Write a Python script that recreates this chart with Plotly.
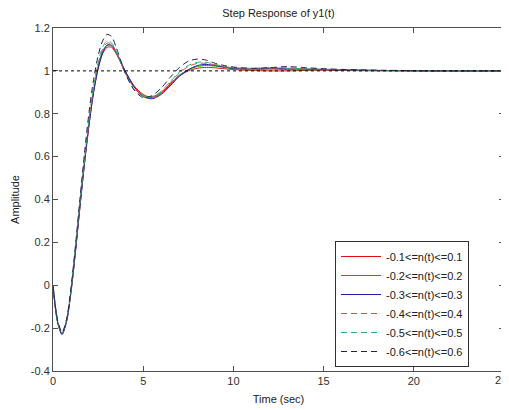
import plotly.graph_objects as go

t = [0, 0.25, 0.5, 0.75, 1, 1.25, 1.5, 1.75, 2, 2.25, 2.5, 2.75, 3, 3.25, 3.5, 3.75, 4, 4.5, 5, 5.5,
     6, 6.5, 7, 7.5, 8, 8.5, 9, 9.5, 10, 11, 12, 13, 14, 15, 16, 17, 18, 19, 20, 21, 22, 23, 24, 25]

y_n01 = [0, -0.17, -0.225, -0.17, -0.03, 0.16, 0.37, 0.57, 0.75, 0.90, 1.01, 1.08, 1.11, 1.11, 1.08, 1.04, 1.00, 0.93, 0.89, 0.875,
         0.895, 0.935, 0.975, 1.0, 1.012, 1.016, 1.014, 1.01, 1.006, 1.002, 1.0, 1.0, 1.002, 1.003, 1.002, 1.001, 1.0, 1.0, 1.0, 1.0, 1.0, 1.0, 1.0, 1.0]
y_n02 = [0, -0.17, -0.228, -0.165, -0.025, 0.17, 0.38, 0.58, 0.76, 0.91, 1.02, 1.09, 1.12, 1.115, 1.085, 1.04, 0.995, 0.925, 0.885, 0.88,
         0.90, 0.94, 0.98, 1.005, 1.02, 1.025, 1.022, 1.016, 1.01, 1.005, 1.008, 1.006, 1.004, 1.006, 1.004, 1.003, 1.002, 1.002, 1.001, 1.0, 1.0, 1.0, 1.0, 1.0]
y_n03 = [0, -0.17, -0.23, -0.17, -0.03, 0.16, 0.37, 0.57, 0.75, 0.90, 1.01, 1.085, 1.12, 1.12, 1.09, 1.045, 1.0, 0.925, 0.88, 0.87,
         0.89, 0.93, 0.975, 1.005, 1.025, 1.03, 1.025, 1.018, 1.012, 1.01, 1.012, 1.01, 1.008, 1.006, 1.004, 1.003, 1.002, 1.001, 1.0, 1.0, 1.0, 1.0, 1.0, 1.0]
y_n04 = [0, -0.16, -0.22, -0.16, -0.02, 0.17, 0.38, 0.58, 0.77, 0.92, 1.03, 1.10, 1.13, 1.125, 1.09, 1.04, 0.99, 0.92, 0.88, 0.875,
         0.90, 0.945, 0.99, 1.02, 1.035, 1.035, 1.028, 1.02, 1.014, 1.01, 1.012, 1.014, 1.01, 1.008, 1.005, 1.003, 1.002, 1.001, 1.0, 1.0, 1.0, 1.0, 1.0, 1.0]
y_n05 = [0, -0.17, -0.225, -0.165, -0.02, 0.18, 0.39, 0.59, 0.78, 0.93, 1.04, 1.11, 1.14, 1.13, 1.09, 1.04, 0.99, 0.915, 0.88, 0.88,
         0.905, 0.95, 0.995, 1.025, 1.04, 1.04, 1.03, 1.02, 1.015, 1.012, 1.015, 1.012, 1.01, 1.008, 1.006, 1.004, 1.002, 1.001, 1.0, 1.0, 1.0, 1.002, 1.0, 1.0]
y_n06 = [0, -0.16, -0.22, -0.16, -0.01, 0.19, 0.41, 0.62, 0.81, 0.96, 1.07, 1.14, 1.17, 1.16, 1.11, 1.05, 0.99, 0.91, 0.875, 0.885,
         0.92, 0.97, 1.015, 1.045, 1.055, 1.05, 1.035, 1.025, 1.018, 1.012, 1.015, 1.02, 1.015, 1.01, 1.007, 1.005, 1.003, 1.002, 1.001, 1.0, 1.0, 1.0, 1.0, 1.0]

names = ["-0.1<=n(t)<=0.1", "-0.2<=n(t)<=0.2", "-0.3<=n(t)<=0.3",
         "-0.4<=n(t)<=0.4", "-0.5<=n(t)<=0.5", "-0.6<=n(t)<=0.6"]
series = [y_n01, y_n02, y_n03, y_n04, y_n05, y_n06]
colors = ["#e01010", "#10a010", "#2020b0", "#d05050", "#30b070", "#202060"]
dashes = ["solid", "solid", "solid", "6px,4px", "6px,4px", "6px,4px"]

x_ticks = [0, 5, 10, 15, 20, 25]
x_tick_text = ["0", "5", "10", "15", "20", "25"]
y_ticks = [-0.4, -0.2, 0, 0.2, 0.4, 0.6, 0.8, 1, 1.2]
y_tick_text = ["-0.4", "-0.2", "0", "0.2", "0.4", "0.6", "0.8", "1", "1.2"]

fig = go.Figure()
for name, ys, c, d in zip(names, series, colors, dashes):
    fig.add_trace(go.Scatter(x=t, y=ys, mode="lines", name=name,
                             line=dict(color=c, width=1, dash=d, shape="spline", smoothing=0.8)))

fig.add_hline(y=1, line=dict(color="black", width=1, dash="dot"))

# last x tick label: plotly drops it because it overflows the page edge; keep it right at the edge
fig.add_annotation(x=x_ticks[-1], y=0, xref="x", yref="paper", text=x_tick_text[-1],
                   showarrow=False, yanchor="top", xanchor="right", yshift=-1, xshift=5,
                   font=dict(size=11, color="#303030"))

# page body has an 8px margin, so the figure is sized/offset to compensate
W, H = 501, 402
L, R, T, B = 45, 5, 20, 39

font = "Liberation Sans, Arial, sans-serif"
fig.update_layout(
    width=W, height=H,
    margin=dict(l=L, r=R, t=T, b=B),
    paper_bgcolor="white", plot_bgcolor="white",
    font=dict(family=font, size=11, color="#303030"),
    title=dict(text="Step Response of y1(t)", x=(L + (W - R)) / 2 / W, xanchor="center",
               y=1 - 5 / H, yanchor="middle", font=dict(size=11, color="#202020")),
    showlegend=True,
    legend=dict(x=(335 - 53) / (504 - 53), y=(371 - 241) / (371 - 28), xanchor="left", yanchor="top",
                bgcolor="white", bordercolor="#303030", borderwidth=1,
                font=dict(size=11, color="#202020"), tracegroupgap=0, itemwidth=40),
    xaxis=dict(range=[0, 25], tickvals=x_ticks, ticktext=x_tick_text, ticks="inside", ticklen=5,
               tickcolor="#505050", automargin=False,
               showline=True, linecolor="#505050", linewidth=1, mirror="ticks",
               showgrid=False, zeroline=False,
               title=dict(text="Time (sec)", standoff=9, font=dict(size=11, color="#202020"))),
    yaxis=dict(range=[-0.4, 1.2], tickvals=y_ticks, ticktext=y_tick_text, ticks="inside", ticklen=5,
               tickcolor="#505050", automargin=False,
               showline=True, linecolor="#505050", linewidth=1, mirror="ticks",
               showgrid=False, zeroline=False,
               title=dict(text="Amplitude", standoff=8, font=dict(size=11, color="#202020"))),
)

fig.write_html("out.html")
